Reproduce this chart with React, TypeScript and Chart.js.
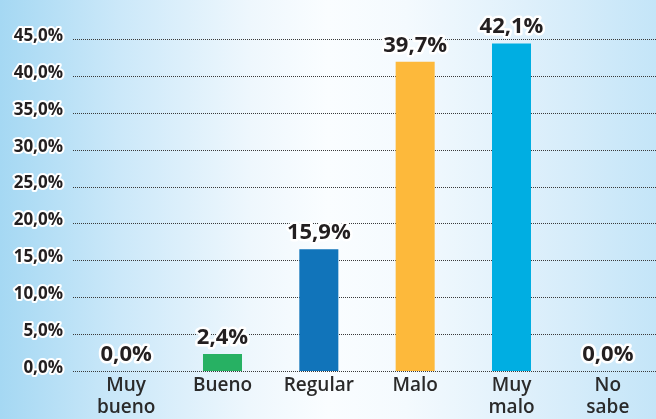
import React, { useEffect, useRef } from "react";
import { Chart, registerables } from "chart.js";

Chart.register(...registerables);

const categories: (string | string[])[] = [["Muy", "bueno"], "Bueno", "Regular", "Malo", ["Muy", "malo"], ["No", "sabe"]];
// bar heights as drawn in the picture (percent)
const barValues = [0, 2.3, 16.5, 41.9, 44.4, 0];
// printed value labels
const valueLabels = ["0,0%", "2,4%", "15,9%", "39,7%", "42,1%", "0,0%"];
const barColors = ["#2bb465", "#27b163", "#1174ba", "#fdb93b", "#00aee2", "#888888"];
const yTicks = [0, 5, 10, 15, 20, 25, 30, 35, 40, 45];
const yTickLabels = ["0,0%", "5,0%", "10,0%", "15,0%", "20,0%", "25,0%", "30,0%", "35,0%", "40,0%", "45,0%"];

const FONT = "'Open Sans', 'Noto Sans', sans-serif";

const overlayPlugin = {
  id: "overlay",
  beforeDatasetsDraw(chart: any) {
    const ctx = chart.ctx;
    const y = chart.scales.y;
    ctx.save();
    ctx.strokeStyle = "#3a3a3a";
    ctx.lineWidth = 1;
    ctx.setLineDash([1, 1]);
    yTicks.forEach((v) => {
      const py = Math.round(y.getPixelForValue(v)) + 0.5;
      ctx.beginPath();
      ctx.moveTo(73, py);
      ctx.lineTo(chart.width, py);
      ctx.stroke();
    });
    ctx.setLineDash([]);
    ctx.font = `bold 17px ${FONT}`;
    ctx.textAlign = "right";
    ctx.textBaseline = "middle";
    ctx.lineJoin = "round";
    yTicks.forEach((v, i) => {
      const py = y.getPixelForValue(v) - 3;
      ctx.strokeStyle = "#ffffff";
      ctx.lineWidth = 4;
      ctx.strokeText(yTickLabels[i], 63, py);
      ctx.fillStyle = "#231f20";
      ctx.fillText(yTickLabels[i], 63, py);
    });
    ctx.restore();
  },
  afterDatasetsDraw(chart: any) {
    const ctx = chart.ctx;
    const meta = chart.getDatasetMeta(0);
    ctx.save();
    ctx.font = `bold 22px ${FONT}`;
    ctx.textAlign = "center";
    ctx.textBaseline = "alphabetic";
    ctx.lineJoin = "round";
    meta.data.forEach((bar: any, i: number) => {
      const tx = bar.x;
      const ty = bar.y - 10;
      ctx.strokeStyle = "#ffffff";
      ctx.lineWidth = 5;
      ctx.strokeText(valueLabels[i], tx, ty);
      ctx.fillStyle = "#231f20";
      ctx.fillText(valueLabels[i], tx, ty);
    });
    ctx.restore();
  },
};

export default function App() {
  const ref = useRef<HTMLCanvasElement>(null);
  useEffect(() => {
    document.body.style.margin = "0";
    const chart = new Chart(ref.current!, {
      type: "bar",
      data: {
        labels: categories as any,
        datasets: [
          {
            data: barValues,
            backgroundColor: barColors,
            barPercentage: 0.405,
            categoryPercentage: 1,
          },
        ],
      },
      options: {
        animation: false,
        responsive: false,
        maintainAspectRatio: false,
        layout: { padding: { top: 39, right: 0, left: 0, bottom: 0 } },
        plugins: { legend: { display: false }, tooltip: { enabled: false } },
        scales: {
          x: {
            grid: { display: false, drawTicks: false },
            border: { display: false },
            ticks: {
              color: "#2a2a2a",
              font: { family: FONT, size: 19, weight: "600" as any, lineHeight: 1.15 },
              padding: 4,
              maxRotation: 0,
              autoSkip: false,
            },
            afterFit: (s: any) => {
              s.height = 48;
            },
          },
          y: {
            min: 0,
            max: 45,
            grid: { display: false, drawTicks: false },
            border: { display: false },
            ticks: { display: false, stepSize: 5 },
            afterFit: (s: any) => {
              s.width = 78;
            },
          },
        },
      },
      plugins: [overlayPlugin],
    });
    return () => chart.destroy();
  }, []);
  return (
    <div
      style={{
        position: "fixed",
        left: 0,
        top: 0,
        width: 656,
        height: 419,
        background:
          "linear-gradient(to right, #a5d8f3 0%, #cbe8f9 18%, #eef7fd 38%, #fafdff 50%, #f4fafe 62%, #dff0fb 80%, #c4e5f8 100%)",
      }}
    >
      <canvas ref={ref} width={656} height={419} style={{ width: 656, height: 419, display: "block" }} />
    </div>
  );
}
